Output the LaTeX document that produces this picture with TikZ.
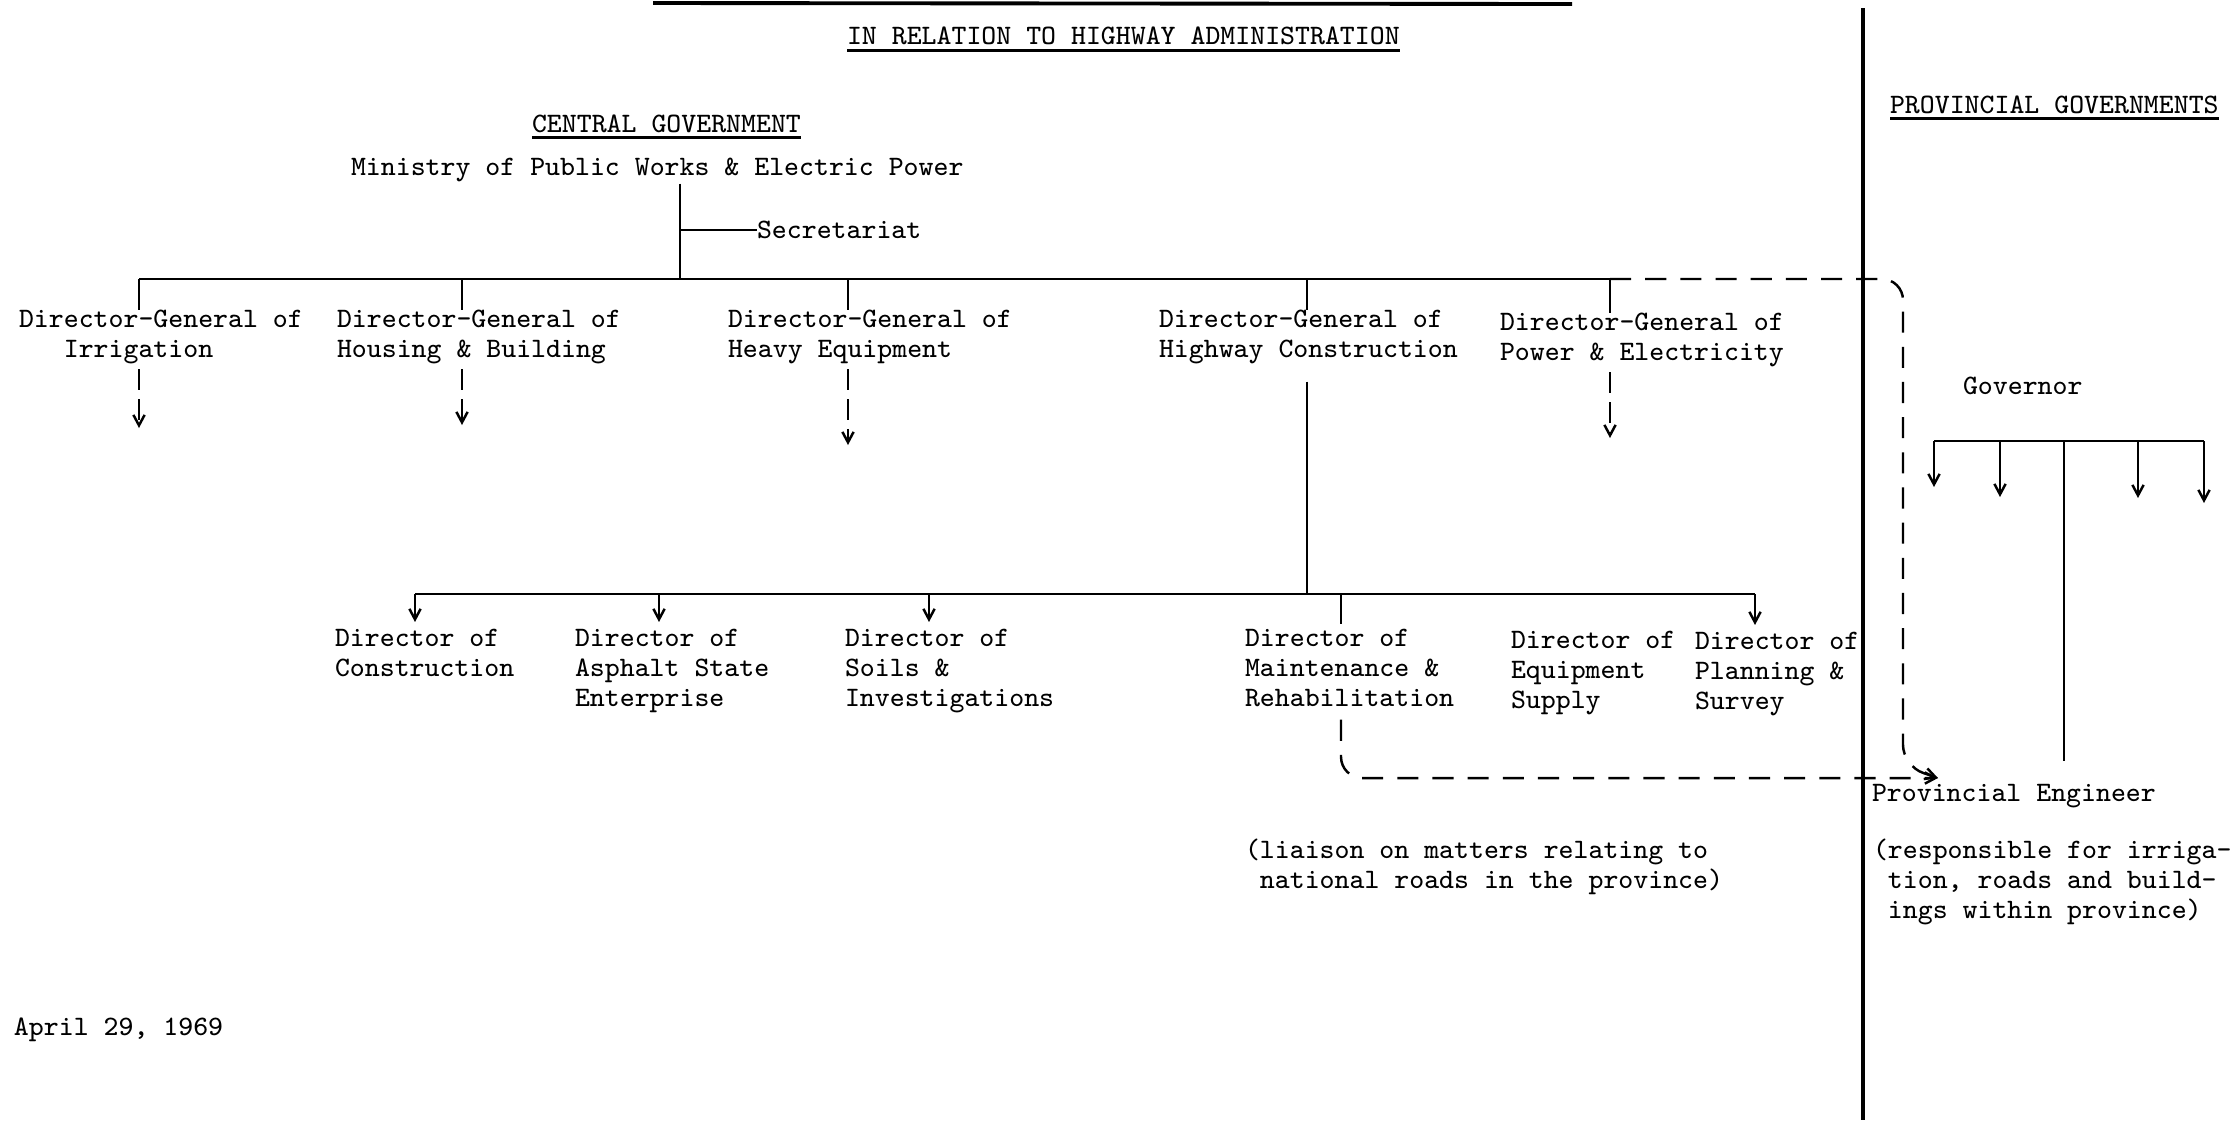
\documentclass[tikz,border=0pt]{standalone}
\usepackage{tikz}
\usetikzlibrary{arrows.meta, positioning, calc}
\tikzset{
	txt/.style       ={font=\fontsize{8.0pt}{8.54pt}\selectfont\ttfamily, inner sep=0pt, outer sep=0pt, anchor=north west, align=left},
	orgline/.style   ={line width=0.7pt},
	orgarrow/.style  ={line width=0.7pt, -{Straight Barb[length=3pt, width=3.2pt]}},
	% dashed lines under the directors-general
	droparrow/.style ={line width=0.7pt, dash pattern=on 6pt off 2.5pt, -{Straight Barb[length=3pt, width=3.2pt]}},
	% liaison with the province
	liaise/.style    ={line width=0.7pt, dash pattern=on 6pt off 4pt, rounded corners=6pt, -{Straight Barb[length=3pt, width=3.2pt]}},
	uline/.style     ={line width=0.8pt},
}

\begin{document}
\begin{tikzpicture}[x=0.01cm, y=-0.01cm]
	\useasboundingbox (0,0) rectangle (2235,1120);
	% headings
	\draw[line width=1.1pt] (653,3) -- (1572,4);
	\node[txt] (rel) at (847,27) {IN RELATION TO HIGHWAY ADMINISTRATION};
	\draw[uline] ([yshift=-1.6pt]rel.south west) -- ([yshift=-1.6pt]rel.south east);
	\node[txt] (cen) at (532,115) {CENTRAL GOVERNMENT};
	\draw[uline] ([yshift=-1.2pt]cen.south west) -- ([yshift=-1.2pt]cen.south east);
	\node[txt] (prv) at (1890,96) {PROVINCIAL GOVERNMENTS};
	\draw[uline] ([yshift=-1.4pt]prv.south west) -- ([yshift=-1.4pt]prv.south east);
	\draw[line width=0.9pt] (1863,8) -- (1863,1120);

	% central government
	\node[txt] (min) at (351,158) {Ministry of Public Works \& Electric Power};
	\node[txt] (sec) at (757,221) {Secretariat};
	\node[txt] (dgi) at (19,310)   {Director-General of\\\phantom{xxx}Irrigation};
	\node[txt] (dgh) at (337,310)  {Director-General of\\Housing \& Building};
	\node[txt] (dge) at (728,310)  {Director-General of\\Heavy Equipment};
	\node[txt] (dgw) at (1159,310) {Director-General of\\Highway Construction};
	\node[txt] (dgp) at (1500,313) {Director-General of\\Power \& Electricity};

	\coordinate (bi) at (139,279);
	\coordinate (bh) at (462,279);
	\coordinate (bm) at (680,279);
	\coordinate (be) at (848,279);
	\coordinate (bw) at (1307,279);
	\coordinate (bp) at (1610,279);
	\draw[orgline] ([yshift=-0.5pt]bm |- min.south) -- (bm);
	\draw[orgline] (bm |- sec.west) -- (sec.west);
	\draw[orgline] (bi) -- (bp);
	\foreach \n in {i,h,e,w,p}
		\draw[orgline] (b\n) -- (b\n |- dg\n.north);
	\foreach \n/\y in {i/428, h/425, e/445, p/438}
		\draw[droparrow] ([yshift=-1.5pt]b\n |- dg\n.south) -- (b\n |- 0,\y);

	% directors under highway construction
	\node[txt] (dcn) at (335,629)  {Director of\\Construction};
	\node[txt] (das) at (575,629)  {Director of\\Asphalt State\\Enterprise};
	\node[txt] (dsl) at (845,629)  {Director of\\Soils \&\\Investigations};
	\node[txt] (dmr) at (1245,629) {Director of\\Maintenance \&\\Rehabilitation};
	\node[txt] (deq) at (1511,631) {Director of\\Equipment\\Supply};
	\node[txt] (dps) at (1695,632) {Director of\\Planning \&\\Survey};

	\coordinate (lcn) at (415,594);
	\coordinate (las) at (659,594);
	\coordinate (lsl) at (929,594);
	\coordinate (lmr) at (1341,594);
	\coordinate (lps) at (1755,594);
	\draw[orgline] ([yshift=-5pt]bw |- dgw.south) -- (bw |- lcn);
	\draw[orgline] (lcn) -- (lps);
	\foreach \n in {cn,as,sl,ps}
		\draw[orgarrow, shorten >=2pt] (l\n) -- (l\n |- d\n.north);
	\draw[orgline] (lmr) -- ([yshift=1.4pt]lmr |- dmr.north);

	% provincial government
	\node[txt] (gov) at (1963,377) {Governor};
	\node[txt] (pe) at (1872,784) {Provincial Engineer};
	\node[txt] (resp) at (1873,839) {(responsible for irriga-\\\phantom{(}tion, roads and build-\\\phantom{(}ings within province)};
	\coordinate (g1) at (1934,441);
	\coordinate (g2) at (2000,441);
	\coordinate (g3) at (2064,441);
	\coordinate (g4) at (2138,441);
	\coordinate (g5) at (2204,441);
	\draw[orgline] (g1) -- (g5);
	\foreach \n/\y in {1/487, 2/497, 4/498, 5/503}
		\draw[orgarrow] (g\n) -- (g\n |- 0,\y);
	\draw[orgline] (g3) -- ([yshift=6.5pt]g3 |- pe.north);

	% liaison
	\coordinate (pa) at (1938,778);
	\draw[liaise] (bp) -| (1903,766) -- (pa);
	\draw[liaise] ([yshift=-3.7pt]lmr |- dmr.south) |- (pa);
	\node[txt] (lia) at (1245,839) {(liaison on matters relating to\\\phantom{(}national roads in the province)};

	\node[txt] (date) at (14,1018) {April 29, 1969};
\end{tikzpicture}
\end{document}
